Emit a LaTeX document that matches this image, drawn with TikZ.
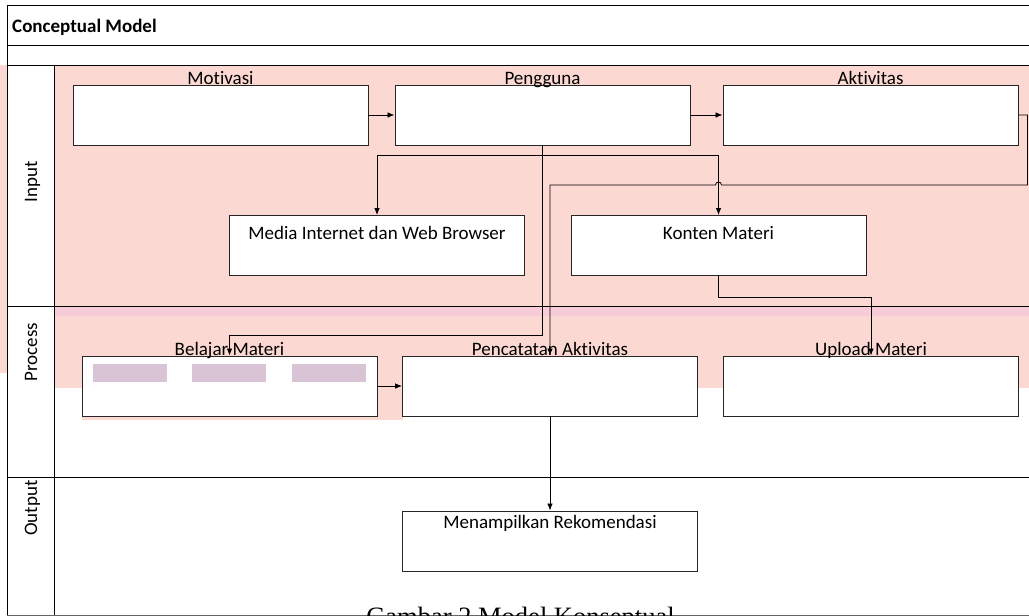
\documentclass[tikz,border=0pt]{standalone}
\usepackage{fontspec}
\setmainfont{Carlito}[Ligatures=NoCommon]
\newfontfamily\capfont{Liberation Serif}
\usepackage{tikz}
\usetikzlibrary{arrows.meta, calc}
\definecolor{watermark}{RGB}{252,216,211}
\definecolor{watermarkb}{RGB}{247,204,217}
\definecolor{sensor}{RGB}{216,196,212}

\begin{document}
\begin{tikzpicture}[
  x=1pt, y=-1pt,
  every node/.style={font=\fontsize{19}{22}\selectfont, inner sep=0pt},
  box/.style={draw=black!85, line width=0.9pt, fill=white, minimum width=295pt, minimum height=60pt},
  isibox/.style={box, text height=24pt, text depth=36pt},
  judul/.style={anchor=base},
  lane/.style={rotate=90, anchor=base},
  garis/.style={line width=0.8pt},
  panah/.style={garis, -{Latex[length=7pt,width=5.5pt]}}
]
\useasboundingbox (0,0) rectangle (1029,616);

\fill[watermark] (54,65) rectangle (1029,388);
\fill[watermark] (82,388) rectangle (403,420);
\fill[watermark] (0,65) rectangle (7,373);
\fill[watermarkb] (54,307) rectangle (1029,316);

\draw[garis] (7,615) -- (7,5) -- (1040,5);
\draw[garis] (7,45) -- (1040,45);
\draw[garis] (7,65) -- (1040,65);
\draw[garis] (54,65) -- (54,615);
\draw[garis] (7,306) -- (1040,306);
\draw[garis] (7,477) -- (1040,477);
\draw[garis, black!60] (7,615) -- (1040,615);

\node[font=\bfseries\fontsize{19}{22}\selectfont, anchor=base west] (judulmodel) at (12,32) {Conceptual Model};
\node[lane] (lninput) at (37,182) {Input};
\node[lane] (lnprocess) at (37,352) {Process};
\node[lane] (lnoutput) at (37,508) {Output};

\node[box] (motivasi) at (220.5,115) {};
\node[box] (pengguna) at (542.5,115) {};
\node[box] (aktivitas) at (870.5,115) {};
\node[isibox] (media) at (377,245.5) {Media Internet dan Web Browser};
\node[isibox] (konten) at (718.5,245.5) {Konten Materi};
\node[box] (belajar) at (229.5,386) {};
\node[box] (pencatatan) at (550,386) {};
\node[box] (upload) at (871,386) {};
\node[isibox, text height=17pt, text depth=43pt] (rekomendasi) at (550,541) {Menampilkan Rekomendasi};
\foreach \gx in {93,192,292}
  \fill[sensor] (\gx,364) rectangle ++(74,18);

\node[judul] (lmotivasi) at (motivasi.north) {Motivasi};
\node[judul] (lpengguna) at (pengguna.north) {Pengguna};
\node[judul] (laktivitas) at (aktivitas.north) {Aktivitas};
\node[judul] (lbelajar) at (belajar.north) {Belajar Materi};
\node[judul] (lpencatatan) at (pencatatan.north) {Pencatatan Aktivitas};
\node[judul] (lupload) at (upload.north) {Upload Materi};

\coordinate (lompat) at (konten.north |- 0,185);
\draw[panah] (motivasi) -- (pengguna);
\draw[panah] (pengguna) -- (aktivitas);
\draw[panah] (pengguna.south) -- ++(0,10) -| (media.north);
\draw[panah] (pengguna.south) -- ++(0,10) -| (konten.north);
\draw[panah] (pengguna.south) |- ($(belajar.north)+(0,-20)$) -| (belajar.north);
\draw[panah] (aktivitas.east) -- ++(9,0) |- ([xshift=3pt]lompat) .. controls +(0,-4) and +(0,-4) .. ([xshift=-3pt]lompat) -| (pencatatan.north);
\draw[panah] (konten.south) -- ++(0,21) -| (upload.north);
\draw[panah] (belajar) -- (pencatatan);
\draw[panah] (pencatatan) -- (rekomendasi);

\node[font=\capfont\fontsize{26.5}{30}\selectfont, anchor=base] (keterangan) at (520.5,625.5) {Gambar 2 Model Konseptual};
\end{tikzpicture}
\end{document}
